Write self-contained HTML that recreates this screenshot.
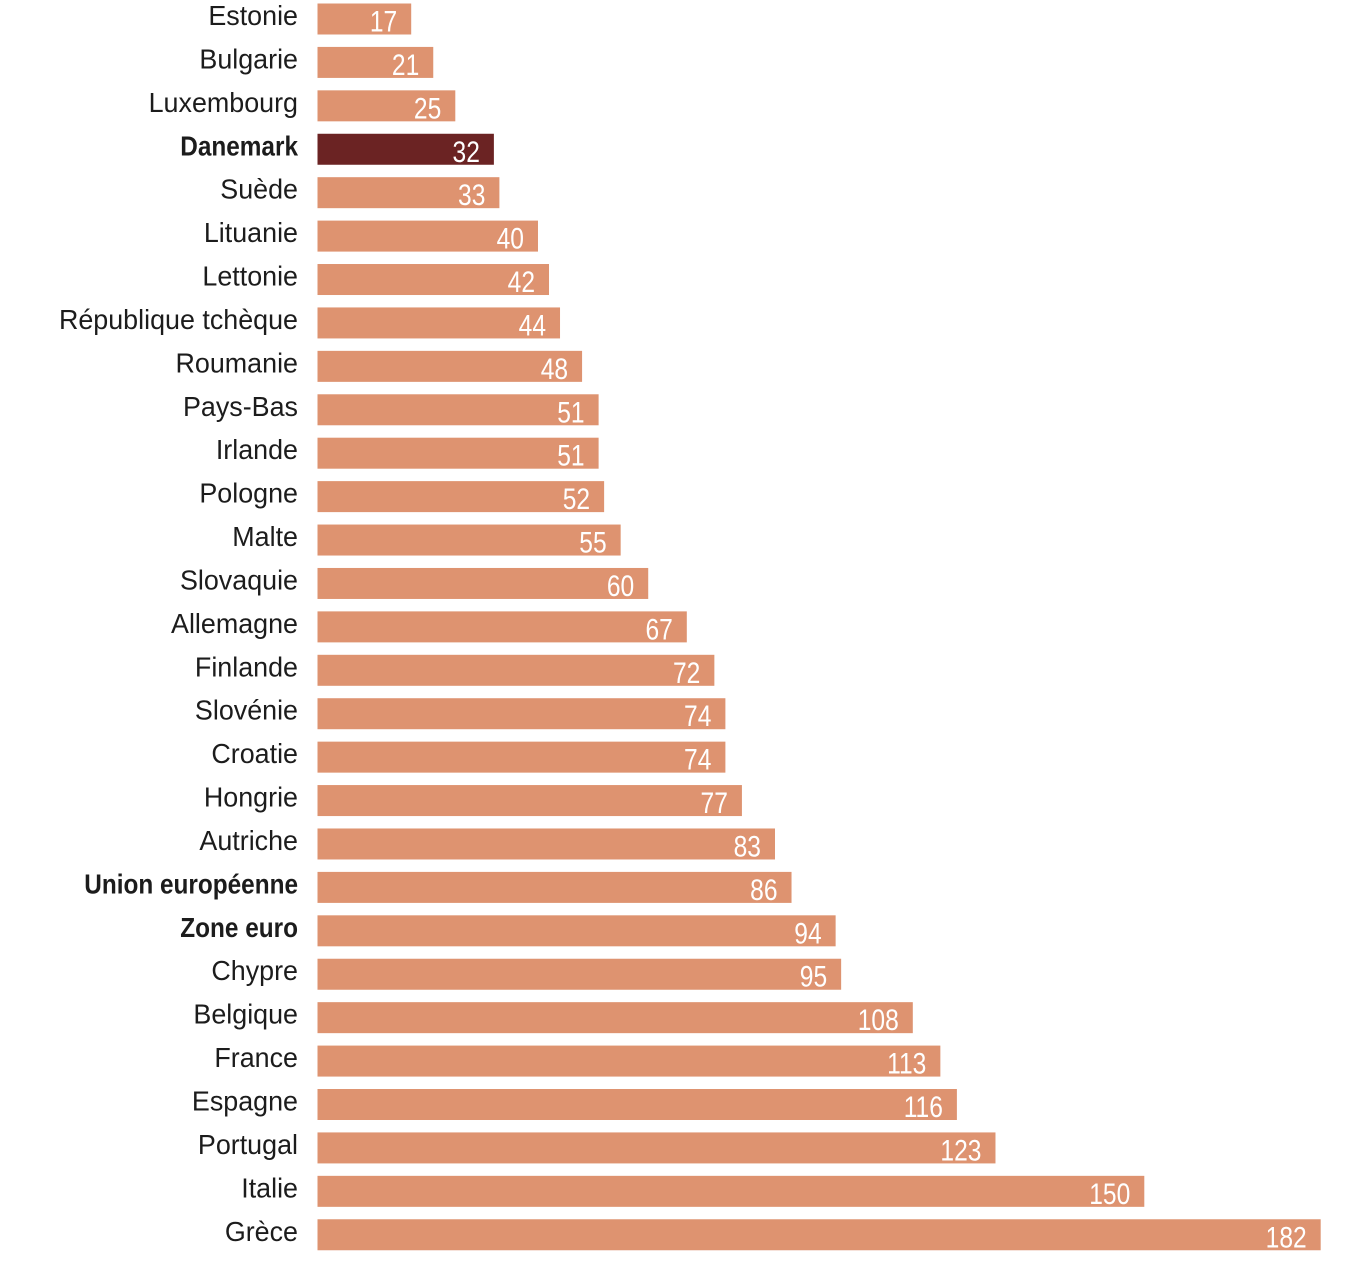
<!DOCTYPE html>
<html>
<head>
<meta charset="utf-8">
<style>
html,body{margin:0;padding:0;background:#fff;}
svg{display:block;}
.lab{font-family:"Liberation Sans",sans-serif;font-size:28px;fill:#1c1c1c;}
.b{font-weight:bold;}
.num{font-family:"Liberation Sans",sans-serif;font-size:30px;fill:#fff;}
</style>
</head>
<body>
<svg width="1356" height="1262" viewBox="0 0 1356 1262" xmlns="http://www.w3.org/2000/svg">
<g id="chart"></g>
<script>
var data=[["Estonie",17],["Bulgarie",21],["Luxembourg",25],["Danemark",32,1],["Suède",33],["Lituanie",40],["Lettonie",42],["République tchèque",44],["Roumanie",48],["Pays-Bas",51],["Irlande",51],["Pologne",52],["Malte",55],["Slovaquie",60],["Allemagne",67],["Finlande",72],["Slovénie",74],["Croatie",74],["Hongrie",77],["Autriche",83],["Union européenne",86,2],["Zone euro",94,2],["Chypre",95],["Belgique",108],["France",113],["Espagne",116],["Portugal",123],["Italie",150],["Grèce",182]];
</script>
</svg>
<script>
(function(){
var ns="http://www.w3.org/2000/svg";
var g=document.getElementById("chart");
var x0=317.5,sc=5.512;
for(var i=0;i<data.length;i++){
  var d=data[i],top=3.5+i*43.42,w=d[1]*sc;
  var r=document.createElementNS(ns,"rect");
  r.setAttribute("x",x0);r.setAttribute("y",top);r.setAttribute("width",w);r.setAttribute("height",31);
  r.setAttribute("fill",d[2]===1?"#6b2323":"#de9370");
  g.appendChild(r);
  var t=document.createElementNS(ns,"text");
  var bold=(d[2]===1||d[2]===2);
  t.setAttribute("class","lab"+(bold?" b":""));
  t.setAttribute("text-anchor","end");
  t.setAttribute("transform","translate(298,"+(top+21.5)+") scale("+(bold?0.87:0.96)+",1)");
  t.textContent=d[0];
  g.appendChild(t);
  var n=document.createElementNS(ns,"text");
  n.setAttribute("class","num");
  n.setAttribute("text-anchor","end");
  n.setAttribute("transform","translate("+(x0+w-14)+","+(top+28)+") scale(0.82,1)");
  n.textContent=d[1];
  g.appendChild(n);
}
})();
</script>
</body>
</html>
